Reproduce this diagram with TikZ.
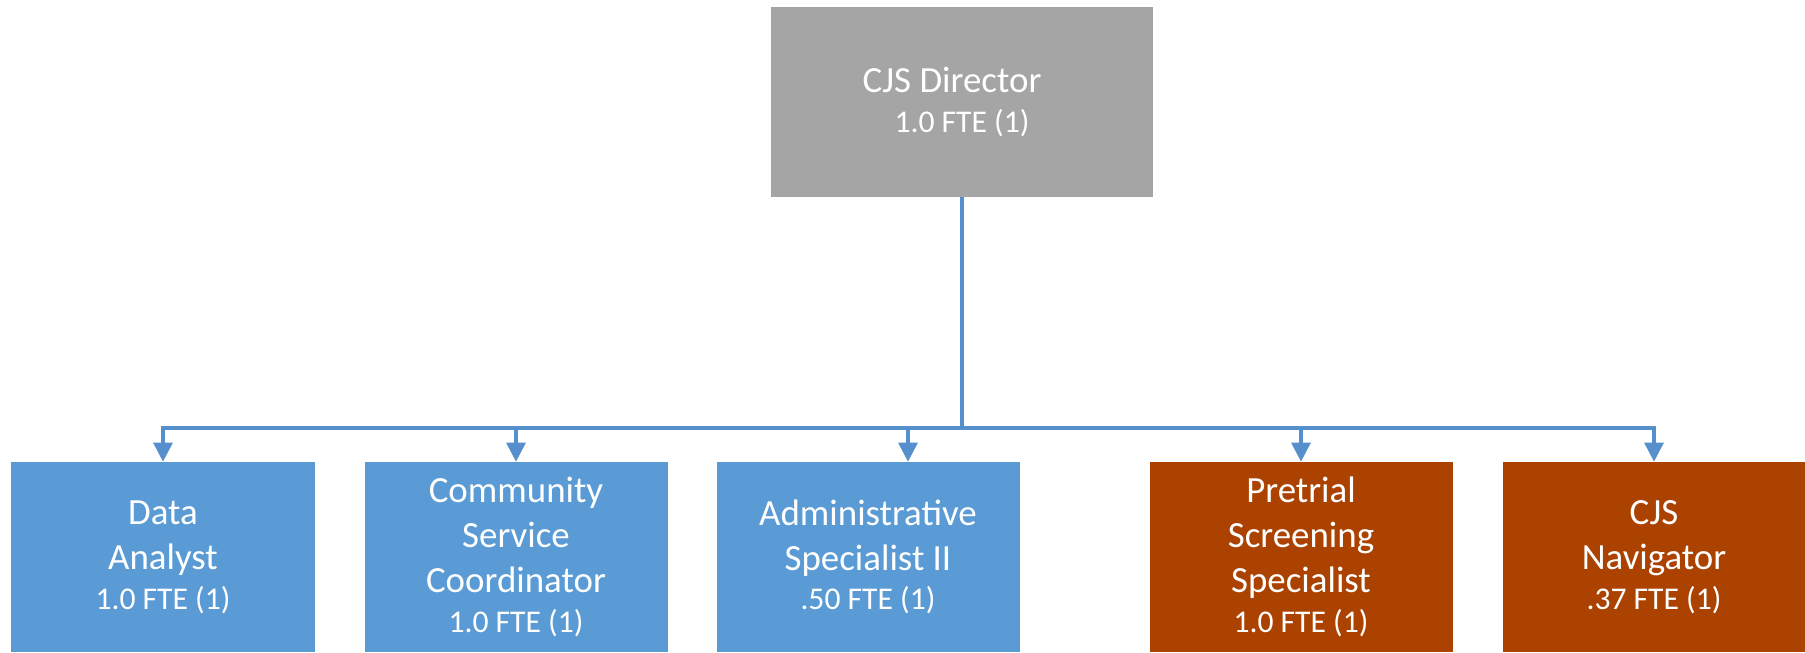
\documentclass[tikz,border=0pt]{standalone}
\usepackage{fontspec}
\setmainfont{Carlito}
\usetikzlibrary{arrows.meta}
\definecolor{dirgray}{HTML}{A5A5A5}
\definecolor{staffblue}{HTML}{5B9BD5}
\definecolor{staffrust}{HTML}{AB4200}
\definecolor{linkblue}{HTML}{5690CC}
\newcommand{\fte}[1]{\\[-2.8pt]{\fontsize{18}{22}\selectfont #1}}

\begin{document}
\begin{tikzpicture}[
	rolebox/.style={rectangle, fill=#1, text=white, align=center,
		minimum width=6.06cm, minimum height=3.8cm, inner sep=0pt,
		font=\fontsize{21}{25.5}\selectfont},
	link/.style={draw=linkblue, line width=1.8pt},
	tip/.style={-{Triangle[width=0.38cm,length=0.38cm]}}
	]
	\useasboundingbox (0,0) rectangle (36.1,-13.04);

	% director
	\node[rolebox=dirgray, minimum width=7.64cm] (dir) at (19.24,-2.04)
		{CJS Director\rule{0.4cm}{0pt}\fte{1.0 FTE (1)}};

	% staff
	\node[rolebox=staffblue] (analyst) at (3.26,-11.14)
		{Data\\Analyst\fte{1.0 FTE (1)}};
	\node[rolebox=staffblue] (coord) at (10.32,-11.14)
		{Community\\Service\\Coordinator\fte{1.0 FTE (1)}};
	\node[rolebox=staffblue] (admin) at (17.36,-11.14)
		{Administrative\\Specialist II\fte{.50 FTE (1)}};
	\node[rolebox=staffrust] (pretrial) at (26.02,-11.14)
		{Pretrial\\Screening\\Specialist\fte{1.0 FTE (1)}};
	\node[rolebox=staffrust] (nav) at (33.08,-11.14)
		{CJS\\Navigator\fte{.37 FTE (1)}};

	% connectors
	\coordinate (bus) at (19.24,-8.56);
	\coordinate (admintop) at ([xshift=0.8cm]admin.north);
	\draw[link] (dir.south) -- (bus);
	\foreach \n in {analyst.north,coord.north,admintop,pretrial.north,nav.north}
		\draw[link, tip] (bus) -| (\n);
\end{tikzpicture}
\end{document}
